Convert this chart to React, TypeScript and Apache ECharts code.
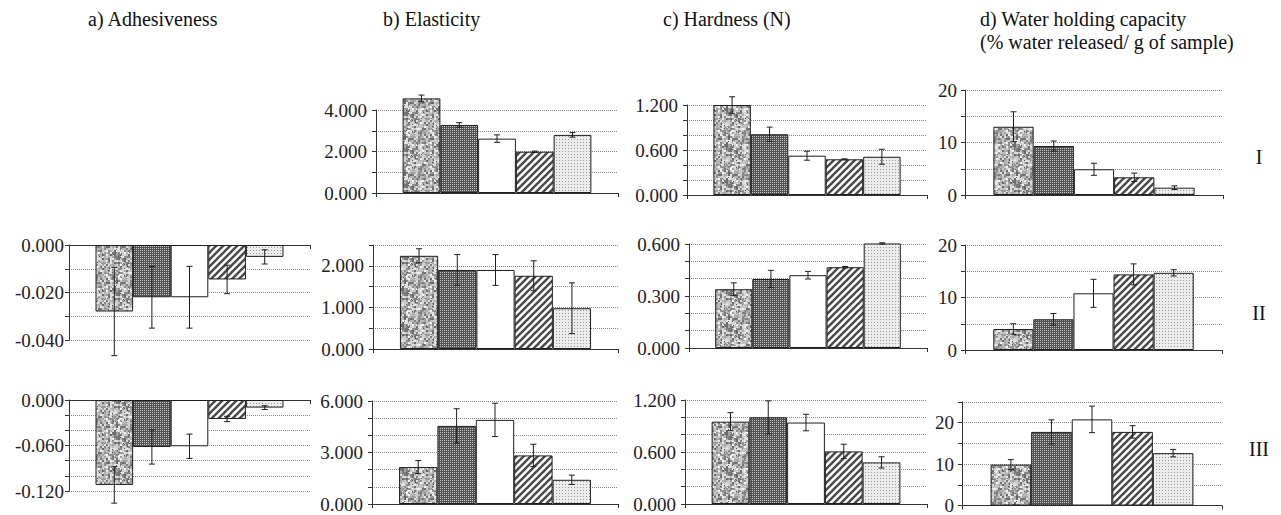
import React, { useEffect, useRef } from "react";
import * as echarts from "echarts";

// ---------- data ----------
const samples = ["Sample 1", "Sample 2", "Sample 3", "Sample 4", "Sample 5"];

const adhesivenessII = [-0.028, -0.022, -0.022, -0.0145, -0.005];
const adhesivenessIIErr = [0.0186, 0.013, 0.013, 0.006, 0.003];
const adhesivenessIII = [-0.112, -0.062, -0.061, -0.025, -0.01];
const adhesivenessIIIErr = [0.024, 0.0225, 0.016, 0.0035, 0.0025];

const elasticityI = [4.56, 3.28, 2.62, 1.99, 2.8];
const elasticityIErr = [0.16, 0.11, 0.18, 0.03, 0.11];
const elasticityII = [2.24, 1.9, 1.9, 1.76, 0.98];
const elasticityIIErr = [0.17, 0.37, 0.37, 0.36, 0.61];
const elasticityIII = [2.15, 4.55, 4.9, 2.83, 1.41];
const elasticityIIIErr = [0.38, 1.0, 0.97, 0.65, 0.27];

const hardnessI = [1.2, 0.81, 0.524, 0.476, 0.51];
const hardnessIErr = [0.11, 0.095, 0.06, 0.006, 0.1];
const hardnessII = [0.339, 0.398, 0.42, 0.466, 0.603];
const hardnessIIErr = [0.037, 0.05, 0.022, 0.004, 0.004];
const hardnessIII = [0.95, 1.0, 0.94, 0.607, 0.48];
const hardnessIIIErr = [0.104, 0.19, 0.095, 0.083, 0.065];

const whcI = [13.0, 9.33, 4.9, 3.37, 1.39];
const whcIErr = [2.85, 0.95, 1.15, 0.8, 0.35];
const whcII = [4.0, 5.85, 10.8, 14.4, 14.7];
const whcIIErr = [1.0, 1.1, 2.67, 2.0, 0.6];
const whcIII = [9.88, 17.78, 20.8, 17.78, 12.65];
const whcIIIErr = [1.2, 2.9, 3.2, 1.5, 0.9];

const columnTitles = ["a) Adhesiveness", "b) Elasticity", "c) Hardness (N)", "d) Water holding capacity"];
const columnSubtitle = "(% water released/ g of sample)";
const rowLabels = ["I", "II", "III"];

// axis settings per panel: [min, max, interval, labelStep, decimals]
const axisA2 = [-0.04, 0, 0.01, 0.02, 3];
const axisA3 = [-0.12, 0, 0.02, 0.06, 3];
const axisB1 = [0, 4, 1, 2, 3];
const axisB2 = [0, 2.5, 0.5, 1, 3];
const axisB3 = [0, 6, 1, 3, 3];
const axisC1 = [0, 1.2, 0.2, 0.6, 3];
const axisC2 = [0, 0.6, 0.1, 0.3, 3];
const axisC3 = [0, 1.2, 0.2, 0.6, 3];
const axisD1 = [0, 20, 5, 10, 0];
const axisD2 = [0, 20, 5, 10, 0];
const axisD3 = [0, 25, 5, 10, 0];

// ---------- layout (pixels) ----------
const panels = [
  { v: adhesivenessII, e: adhesivenessIIErr, ax: axisA2, g: [69, 245, 241, 95], m: 5 },
  { v: adhesivenessIII, e: adhesivenessIIIErr, ax: axisA3, g: [69, 400, 241, 91], m: 5 },
  { v: elasticityI, e: elasticityIErr, ax: axisB1, g: [376, 110, 242, 83], m: 9 },
  { v: elasticityII, e: elasticityIIErr, ax: axisB2, g: [373, 245, 245, 104], m: 9 },
  { v: elasticityIII, e: elasticityIIIErr, ax: axisB3, g: [372, 401, 246, 103], m: 9 },
  { v: hardnessI, e: hardnessIErr, ax: axisC1, g: [687, 105, 240, 90], m: 9 },
  { v: hardnessII, e: hardnessIIErr, ax: axisC2, g: [689, 244, 238, 104], m: 9 },
  { v: hardnessIII, e: hardnessIIIErr, ax: axisC3, g: [685, 400, 242, 104], m: 9 },
  { v: whcI, e: whcIErr, ax: axisD1, g: [965, 90, 258, 105], m: 8 },
  { v: whcII, e: whcIIErr, ax: axisD2, g: [965, 245, 257, 105], m: 8 },
  { v: whcIII, e: whcIIIErr, ax: axisD3, g: [962, 402, 260, 105], m: 8 },
];

const GAP = 0.22;
const FONT = "Liberation Serif";
const INK = "#1e1e1e";

function rnd(x: number, y: number, s: number) {
  const t = Math.sin(x * 12.9898 + y * 78.233 + s * 37.719) * 43758.5453;
  return t - Math.floor(t);
}

function makePatterns() {
  const mk = (w: number, h: number, draw: (ctx: CanvasRenderingContext2D) => void) => {
    const c = document.createElement("canvas");
    c.width = w;
    c.height = h;
    const ctx = c.getContext("2d")!;
    draw(ctx);
    return c;
  };
  // 1: mottled granite grey
  const granite = mk(36, 36, (ctx) => {
    for (let y = 0; y < 36; y += 2) {
      for (let x = 0; x < 36; x += 2) {
        const r = rnd(x, y, 1);
        const g = Math.round(105 + r * 140);
        ctx.fillStyle = `rgb(${g},${g},${g})`;
        ctx.fillRect(x, y, 2, 2);
      }
    }
    for (let i = 0; i < 60; i++) {
      const x = Math.floor(rnd(i, 3, 2) * 36);
      const y = Math.floor(rnd(i, 7, 3) * 36);
      const g = rnd(i, 1, 4) > 0.5 ? 225 : 85;
      ctx.fillStyle = `rgb(${g},${g},${g})`;
      ctx.fillRect(x, y, 1, 1);
    }
  });
  // 2: dark fine check
  const check = mk(4, 4, (ctx) => {
    ctx.fillStyle = "#525252";
    ctx.fillRect(0, 0, 4, 4);
    ctx.fillStyle = "#c6c6c6";
    ctx.fillRect(0, 0, 1, 1);
    ctx.fillRect(2, 2, 1, 1);
    ctx.fillRect(2, 0, 1, 1);
    ctx.fillRect(0, 2, 1, 1);
  });
  // 4: diagonal stripes "/"
  const stripes = mk(7, 7, (ctx) => {
    ctx.fillStyle = "#ffffff";
    ctx.fillRect(0, 0, 7, 7);
    ctx.strokeStyle = "#4a4a4a";
    ctx.lineWidth = 2.4;
    for (let k = -1; k <= 1; k++) {
      ctx.beginPath();
      ctx.moveTo(k * 7 - 1, 8);
      ctx.lineTo(k * 7 + 8, -1);
      ctx.stroke();
    }
  });
  // 5: light dotted
  const dots = mk(3, 3, (ctx) => {
    ctx.fillStyle = "#ececec";
    ctx.fillRect(0, 0, 3, 3);
    ctx.fillStyle = "#9a9a9a";
    ctx.fillRect(1, 1, 1, 1);
  });
  return [
    { image: granite, repeat: "repeat" },
    { image: check, repeat: "repeat" },
    "#ffffff",
    { image: stripes, repeat: "repeat" },
    { image: dots, repeat: "repeat" },
  ];
}

function errorRender(params: any, api: any) {
  const i = api.value(3);
  const v = api.value(1);
  const e = api.value(2);
  const c = api.coord([0, v]);
  const band = api.size([1, 0])[0];
  const total = band * (1 - GAP);
  const bw = total / 5;
  const x = c[0] - total / 2 + bw * (i + 0.5);
  const yHi = api.coord([0, v + e])[1];
  const yLo = api.coord([0, v - e])[1];
  const cap = 3;
  const st = { stroke: INK, lineWidth: 1 };
  return {
    type: "group",
    children: [
      { type: "line", shape: { x1: x, y1: yHi, x2: x, y2: yLo }, style: st },
      { type: "line", shape: { x1: x - cap, y1: yHi, x2: x + cap, y2: yHi }, style: st },
      { type: "line", shape: { x1: x - cap, y1: yLo, x2: x + cap, y2: yLo }, style: st },
    ],
  };
}

function buildOption() {
  const fills = makePatterns();
  const grid: any[] = [];
  const xAxis: any[] = [];
  const yAxis: any[] = [];
  const series: any[] = [];
  panels.forEach((p, k) => {
    const [min, max, interval, step, dec] = p.ax;
    grid.push({ left: p.g[0], top: p.g[1], width: p.g[2], height: p.g[3], containLabel: false });
    xAxis.push({
      type: "category",
      gridIndex: k,
      data: ["x"],
      axisLabel: { show: false },
      axisLine: { show: true, onZero: true, lineStyle: { color: "#333", width: 1 } },
      axisTick: { show: true, length: 4, lineStyle: { color: "#333" } },
      splitLine: { show: false },
    });
    yAxis.push({
      type: "value",
      gridIndex: k,
      min,
      max,
      interval,
      axisLine: { show: true, lineStyle: { color: "#333", width: 1 } },
      axisTick: { show: true, length: 4, lineStyle: { color: "#333" } },
      splitLine: { show: true, lineStyle: { color: "#8a8a8a", type: "dotted", width: 1 } },
      axisLabel: {
        margin: p.m,
        color: "#222",
        fontFamily: FONT,
        fontSize: 19,
        formatter: (val: number) => {
          const r = val / step;
          return Math.abs(r - Math.round(r)) < 1e-6 ? val.toFixed(dec) : "";
        },
      },
    });
    samples.forEach((name, i) => {
      series.push({
        type: "bar",
        name,
        xAxisIndex: k,
        yAxisIndex: k,
        data: [p.v[i]],
        barGap: "0%",
        barCategoryGap: GAP * 100 + "%",
        clip: false,
        itemStyle: { color: fills[i], borderColor: INK, borderWidth: 1 },
        emphasis: { disabled: true },
      });
    });
    series.push({
      type: "custom",
      xAxisIndex: k,
      yAxisIndex: k,
      clip: false,
      renderItem: errorRender,
      encode: { x: 0, y: 1 },
      data: p.v.map((val, i) => [0, val, p.e[i], i]),
      z: 10,
    });
  });

  const tStyle = (text: string, align: string) => ({
    text,
    fill: "#111",
    fontFamily: FONT,
    fontSize: 20,
    align,
    verticalAlign: "middle",
    textAlign: align,
    textVerticalAlign: "middle",
  });
  const graphic: any[] = [
    { type: "text", x: 88, y: 19, style: tStyle(columnTitles[0], "left") },
    { type: "text", x: 383, y: 19, style: tStyle(columnTitles[1], "left") },
    { type: "text", x: 663, y: 19, style: tStyle(columnTitles[2], "left") },
    { type: "text", x: 980, y: 19, style: tStyle(columnTitles[3], "left") },
    { type: "text", x: 980, y: 42, style: tStyle(columnSubtitle, "left") },
    { type: "text", x: 1259, y: 157, style: tStyle(rowLabels[0], "center") },
    { type: "text", x: 1259, y: 313, style: tStyle(rowLabels[1], "center") },
    { type: "text", x: 1259, y: 449, style: tStyle(rowLabels[2], "center") },
  ];

  return {
    animation: false,
    backgroundColor: "#ffffff",
    textStyle: { fontFamily: FONT },
    grid,
    xAxis,
    yAxis,
    series,
    graphic,
    tooltip: { show: false },
  };
}

export default function App() {
  const ref = useRef<HTMLDivElement>(null);
  useEffect(() => {
    if (!ref.current) return;
    const chart = echarts.init(ref.current, undefined, { renderer: "svg" });
    chart.setOption(buildOption() as any);
    return () => chart.dispose();
  }, []);
  return (
    <div
      ref={ref}
      style={{ position: "absolute", left: 0, top: 0, width: 1281, height: 515, background: "#fff" }}
    />
  );
}
